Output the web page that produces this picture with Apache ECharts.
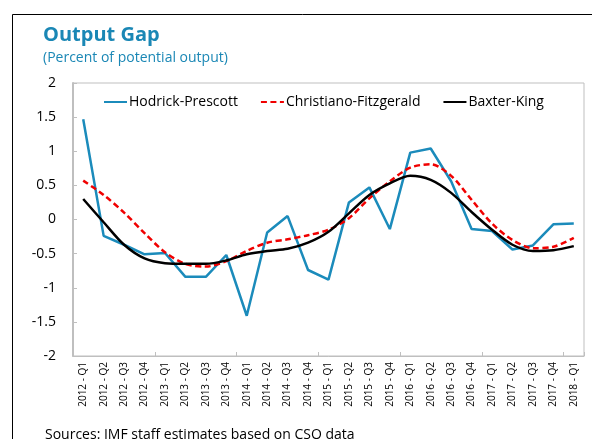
<!DOCTYPE html>
<html>
<head>
<meta charset="utf-8">
<script src="https://cdn.jsdelivr.net/npm/echarts@6/dist/echarts.min.js"></script>
<style>
  html, body { margin: 0; padding: 0; background: #fff; }
  #main { width: 592px; height: 439px; }
</style>
</head>
<body>
<div id="main"></div>
<script>
// 季度
var quarters = [
  '2012 - Q1', '2012 - Q2', '2012 - Q3', '2012 - Q4',
  '2013 - Q1', '2013 - Q2', '2013 - Q3', '2013 - Q4',
  '2014 - Q1', '2014 - Q2', '2014 - Q3', '2014 - Q4',
  '2015 - Q1', '2015 - Q2', '2015 - Q3', '2015 - Q4',
  '2016 - Q1', '2016 - Q2', '2016 - Q3', '2016 - Q4',
  '2017 - Q1', '2017 - Q2', '2017 - Q3', '2017 - Q4',
  '2018 - Q1'
];
// 三种滤波
var hodrickPrescott = [1.47, -0.24, -0.37, -0.51, -0.49, -0.84, -0.84, -0.52, -1.41, -0.19, 0.05, -0.74,
  -0.88, 0.25, 0.47, -0.14, 0.98, 1.04, 0.56, -0.14, -0.17, -0.44, -0.38, -0.07, -0.06];
var christianoFitzgerald = [0.57, 0.36, 0.1, -0.2, -0.48, -0.65, -0.69, -0.61, -0.46, -0.34, -0.29, -0.23,
  -0.15, 0.02, 0.31, 0.56, 0.76, 0.81, 0.64, 0.29, -0.06, -0.3, -0.42, -0.4, -0.27];
var baxterKing = [0.3, -0.04, -0.37, -0.57, -0.64, -0.65, -0.65, -0.6, -0.51, -0.46, -0.43, -0.34,
  -0.18, 0.09, 0.36, 0.53, 0.64, 0.58, 0.39, 0.11, -0.15, -0.37, -0.46, -0.45, -0.39];
var yTicks = [-2, 2, 0.5]; // min, max, interval

var font = '"Open Sans", "Noto Sans", sans-serif';
var gray = '#bfbfbf';

var chart = echarts.init(document.getElementById('main'));
chart.setOption({
  animation: false,
  textStyle: { fontFamily: font },
  title: [{
    text: 'Output Gap',
    left: 38, top: 20,
    textStyle: { fontSize: 20, fontWeight: 'bold', color: '#1a87b5', fontFamily: font }
  }, {
    text: '(Percent of potential output)',
    left: 38, top: 46,
    textStyle: { fontSize: 14, fontWeight: 'normal', color: '#1a87b5', fontFamily: font }
  }, {
    text: 'Sources: IMF staff estimates based on CSO data',
    left: 40, top: 423,
    textStyle: { fontSize: 14, fontWeight: 'normal', color: '#000', fontFamily: font }
  }],
  graphic: [{
    type: 'rect',
    shape: { x: 12.5, y: 14.5, width: 620, height: 460 },
    style: { fill: null, stroke: '#000', lineWidth: 1 },
    silent: true
  }],
  legend: {
    top: 90, left: 98,
    itemWidth: 23, itemHeight: 10, itemGap: 22,
    itemStyle: { opacity: 0 },
    textStyle: { fontSize: 14, color: '#000', fontFamily: font, padding: [0, 0, 0, -3] },
    data: ['Hodrick-Prescott', 'Christiano-Fitzgerald', 'Baxter-King']
  },
  grid: {
    left: 73, top: 83, right: 8, bottom: 83,
    show: true, borderColor: gray, borderWidth: 1
  },
  xAxis: [{
    type: 'category', data: quarters, boundaryGap: true,
    axisLine: { show: false }, axisTick: { show: false },
    axisLabel: { rotate: 90, fontSize: 10, color: '#000', margin: 6, interval: 0 }
  }, {
    type: 'category', data: quarters, boundaryGap: true, position: 'bottom',
    axisLine: { show: true, onZero: true, lineStyle: { color: gray, width: 1 } },
    axisTick: { show: true, inside: true, length: 4, lineStyle: { color: gray } },
    axisLabel: { show: false }
  }],
  yAxis: {
    type: 'value', min: yTicks[0], max: yTicks[1], interval: yTicks[2],
    axisLine: { show: true, lineStyle: { color: gray, width: 2 } },
    axisTick: { show: true, inside: true, length: 4, lineStyle: { color: gray } },
    splitLine: { show: false },
    axisLabel: { fontSize: 14, color: '#000', margin: 17 }
  },
  series: [{
    name: 'Hodrick-Prescott', type: 'line', data: hodrickPrescott,
    symbol: 'none', color: '#1b8bbb',
    lineStyle: { width: 2.5, color: '#1b8bbb' }
  }, {
    name: 'Christiano-Fitzgerald', type: 'line', data: christianoFitzgerald,
    symbol: 'none', smooth: 0.3, color: '#f00000',
    lineStyle: { width: 2.5, color: '#f00000', type: [6, 3.5] }
  }, {
    name: 'Baxter-King', type: 'line', data: baxterKing,
    symbol: 'none', smooth: 0.3, color: '#000',
    lineStyle: { width: 2.5, color: '#000' }
  }]
});
</script>
</body>
</html>
